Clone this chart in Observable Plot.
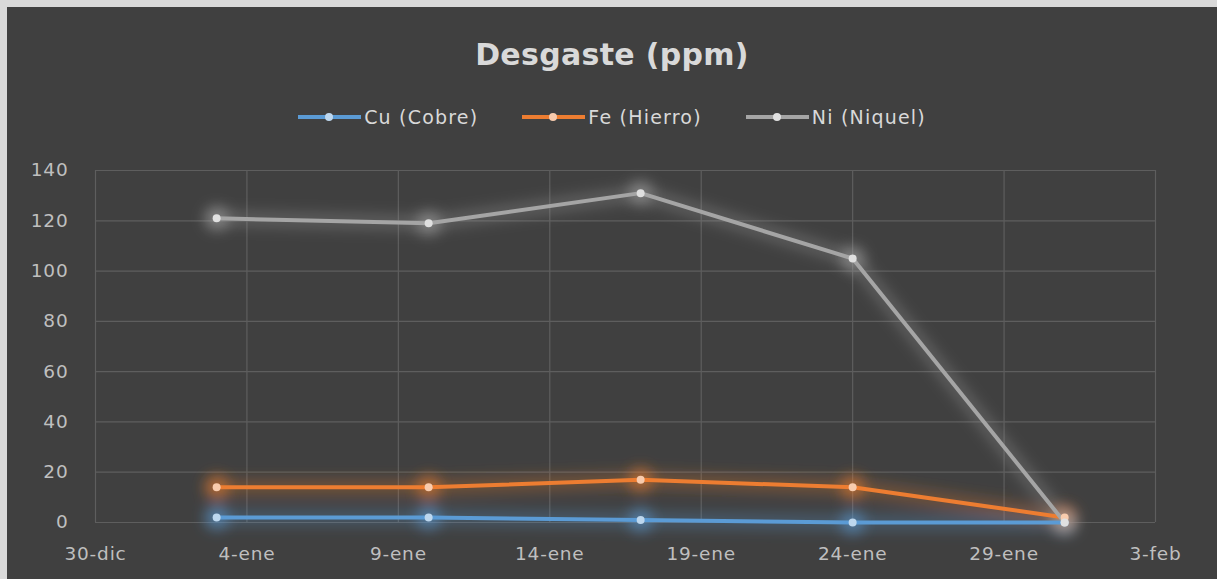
<!DOCTYPE html>
<html>
<head>
<meta charset="utf-8">
<script src="https://cdn.jsdelivr.net/npm/d3@7"></script>
<script src="https://cdn.jsdelivr.net/npm/@observablehq/plot@0.6"></script>
<style>
  html, body { margin: 0; padding: 0; background: #d9d9d9; width: 1217px; height: 579px; overflow: hidden; }
  #card { position: absolute; left: 7px; top: 7px; width: 1210px; height: 572px; background: #404040; font-family: "DejaVu Sans", sans-serif; }
  #title { position: absolute; left: 0; width: 1210px; top: 30px; line-height: 36px; text-align: center; color: #d9d9d9; font-size: 30px; font-weight: bold; letter-spacing: 0.3px; }
  #legend { position: absolute; left: 0; width: 1210px; top: 99px; height: 22px; display: flex; justify-content: center; gap: 44px; color: #d9d9d9; font-size: 19px; letter-spacing: 1.2px; }
  .item { display: flex; align-items: center; }
  .sw { position: relative; width: 63px; height: 4px; margin-right: 3px; }
  .sw i { position: absolute; left: 27px; top: -2px; width: 8px; height: 8px; border-radius: 50%; }
  #chart { position: absolute; left: 0; top: 143px; }
</style>
</head>
<body>
<div id="card">
  <div id="title">Desgaste (ppm)</div>
  <div id="legend"></div>
  <div id="chart"></div>
</div>
<script>
const dates = ["2022-01-03", "2022-01-10", "2022-01-17", "2022-01-24", "2022-01-31"];
const seriesNames = ["Cu (Cobre)", "Fe (Hierro)", "Ni (Niquel)"];
const cu = [2, 2, 1, 0, 0];
const fe = [14, 14, 17, 14, 2];
const ni = [121, 119, 131, 105, 0];
const lineColors = ["#5b9bd5", "#ed7d31", "#a5a5a5"];
const dotColors = ["#bdd7ee", "#f8cbad", "#e0e0e0"];
const yTicks = [0, 20, 40, 60, 80, 100, 120, 140];
const xTickDates = ["2021-12-30", "2022-01-04", "2022-01-09", "2022-01-14", "2022-01-19", "2022-01-24", "2022-01-29", "2022-02-03"];
const meses = ["ene", "feb", "mar", "abr", "may", "jun", "jul", "ago", "sep", "oct", "nov", "dic"];

const values = [cu, fe, ni];
const data = [];
seriesNames.forEach((s, i) => dates.forEach((d, j) => data.push({series: s, date: new Date(d + "T00:00:00Z"), value: values[i][j]})));
const xTicks = xTickDates.map(d => new Date(d + "T00:00:00Z"));
const fmt = d => `${d.getUTCDate()}-${meses[d.getUTCMonth()]}`;

const legend = document.getElementById("legend");
seriesNames.forEach((s, i) => {
  const it = document.createElement("div");
  it.className = "item";
  it.innerHTML = `<div class="sw" style="background:${lineColors[i]}"><i style="background:${dotColors[i]}"></i></div><span>${s}</span>`;
  legend.appendChild(it);
});

const plot = Plot.plot({
  width: 1210,
  height: 436,
  marginLeft: 88,
  marginRight: 62,
  marginTop: 20,
  marginBottom: 64,
  style: {background: "transparent", color: "#bfbfbf", fontFamily: "DejaVu Sans, sans-serif", fontSize: "18.5px", letterSpacing: "0.8px"},
  x: {type: "utc", domain: [xTicks[0], xTicks[xTicks.length - 1]], ticks: xTicks, tickFormat: fmt, tickSize: 0, tickPadding: 24, label: null},
  y: {domain: [0, 140], ticks: yTicks, tickSize: 0, tickPadding: 27, label: null},
  color: {domain: seriesNames, range: lineColors},
  marks: [
    Plot.gridY(yTicks, {stroke: "#5e5e5e", strokeOpacity: 1, strokeWidth: 1.2}),
    Plot.gridX(xTicks, {stroke: "#5e5e5e", strokeOpacity: 1, strokeWidth: 1.2}),
    Plot.line(data, {x: "date", y: "value", z: "series", stroke: "series", strokeWidth: 16, strokeOpacity: 0.28, className: "glow"}),
    Plot.dot(data, {x: "date", y: "value", fill: "series", r: 12, fillOpacity: 0.55, className: "glow"}),
    Plot.line(data, {x: "date", y: "value", z: "series", stroke: "series", strokeWidth: 4}),
    Plot.dot(data, {x: "date", y: "value", fill: d => dotColors[seriesNames.indexOf(d.series)], r: 4})
  ]
});
const svg = d3.select(plot);
svg.selectAll(".tick text").attr("fill", "#bfbfbf");
const defs = svg.insert("defs", ":first-child");
defs.append("filter").attr("id", "glowf").attr("x", "-20%").attr("y", "-20%").attr("width", "140%").attr("height", "140%")
  .append("feGaussianBlur").attr("stdDeviation", 7);
svg.selectAll(".glow").attr("filter", "url(#glowf)");
document.getElementById("chart").appendChild(plot);
</script>
</body>
</html>
